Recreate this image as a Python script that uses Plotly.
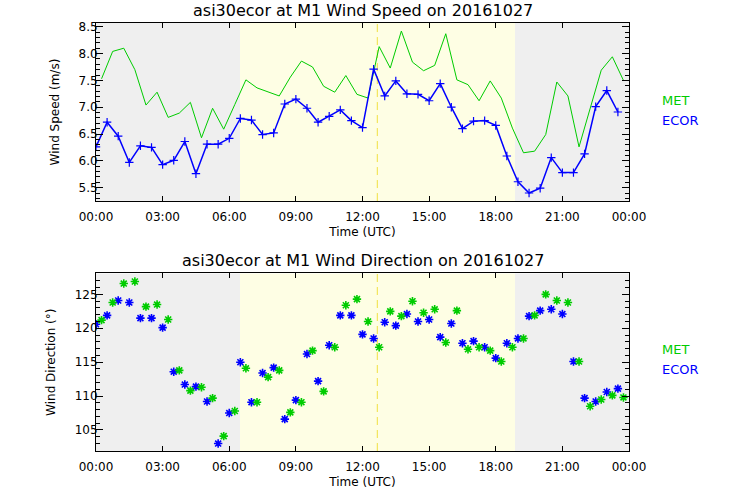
import pandas as pd
import plotly.graph_objects as go

# ---- data ----
ecor_times = pd.date_range("2016-10-27 00:00", periods=48, freq="30min")
met_times = pd.date_range("2016-10-27 00:15", periods=48, freq="30min")

ecor_speed = [6.26, 6.72, 6.46, 5.97, 6.28, 6.25, 5.93, 6.01, 6.36, 5.76, 6.31, 6.31,
              6.42, 6.79, 6.76, 6.49, 6.52, 7.06, 7.15, 6.98, 6.72, 6.83, 6.95, 6.75,
              6.62, 7.71, 7.21, 7.49, 7.25, 7.24, 7.12, 7.44, 7.00, 6.60, 6.74, 6.75,
              6.66, 6.09, 5.61, 5.40, 5.49, 6.06, 5.78, 5.78, 6.13, 7.01, 7.31, 6.91]
met_speed = [7.53, 8.04, 8.10, 7.70, 7.04, 7.28, 6.81, 6.89, 7.09, 6.43, 6.98, 6.59,
             7.05, 7.51, 7.36, 7.28, 7.21, 7.56, 7.86, 7.75, 7.39, 7.28, 7.59, 7.24,
             7.17, 8.13, 7.73, 8.42, 7.84, 7.68, 7.78, 8.37, 7.51, 7.42, 7.12, 7.49,
             7.17, 6.61, 6.15, 6.18, 6.49, 7.47, 7.21, 6.26, 6.98, 7.69, 7.94, 7.50]

ecor_dir = [120.6, 121.9, 124.1, 123.8, 121.5, 121.5, 120.1, 113.6, 111.7, 111.4, 109.2, 103.0,
            107.5, 115.0, 109.1, 113.4, 114.2, 106.6, 109.4, 116.2, 112.2, 117.5, 121.9, 121.9,
            119.1, 118.5, 120.9, 120.4, 122.1, 121.0, 121.3, 118.7, 120.7, 117.8, 118.1, 117.2,
            115.6, 117.8, 118.5, 121.8, 122.6, 122.8, 122.1, 115.1, 109.7, 109.2, 110.6, 111.1]
met_dir = [121.2, 123.8, 126.6, 126.9, 123.2, 123.5, 121.3, 113.8, 110.8, 111.3, 109.7, 104.1,
           107.8, 114.1, 109.1, 112.8, 113.8, 107.6, 109.1, 116.7, 110.7, 117.2, 123.4, 124.3,
           121.0, 117.2, 122.5, 121.8, 124.0, 122.3, 122.8, 117.9, 122.6, 116.9, 117.2, 116.7,
           115.1, 117.2, 118.5, 121.9, 125.0, 124.1, 123.8, 115.1, 108.5, 109.5, 110.1, 109.8]

day_start = "2016-10-27 00:00"
day_end = "2016-10-28 00:00"
sunrise = "2016-10-27 06:29"
sunset = "2016-10-27 18:52"
solar_noon = "2016-10-27 12:40"

titles = ["asi30ecor at M1 Wind Speed on 20161027",
          "asi30ecor at M1 Wind Direction on 20161027"]
y_titles = ["Wind Speed (m/s)", "Wind Direction (°)"]
legend_names = ["MET", "ECOR"]

GREEN = "#00cc00"
BLUE = "#0000ff"
GRAY = "#efefef"
YELLOW = "#fefee4"
FONT = "DejaVu Sans"

fig = go.Figure()

# top panel
fig.add_trace(go.Scatter(x=met_times, y=met_speed, mode="lines",
                         line=dict(color=GREEN, width=1), xaxis="x", yaxis="y",
                         showlegend=False))
fig.add_trace(go.Scatter(x=ecor_times, y=ecor_speed, mode="lines+markers",
                         line=dict(color=BLUE, width=1.5),
                         marker=dict(symbol="cross-thin-open", size=6, color=BLUE,
                                     line=dict(color=BLUE, width=1.2)),
                         xaxis="x", yaxis="y", showlegend=False))
# bottom panel
fig.add_trace(go.Scatter(x=ecor_times, y=ecor_dir, mode="markers",
                         marker=dict(symbol="asterisk-open", size=7, color=BLUE,
                                     line=dict(color=BLUE, width=1.6)),
                         xaxis="x2", yaxis="y2", showlegend=False))
fig.add_trace(go.Scatter(x=met_times, y=met_dir, mode="markers",
                         marker=dict(symbol="asterisk-open", size=7, color=GREEN,
                                     line=dict(color=GREEN, width=1.6)),
                         xaxis="x2", yaxis="y2", showlegend=False))

shapes = []
for xa, ya in [("x", "y domain"), ("x2", "y2 domain")]:
    shapes += [
        dict(type="rect", xref=xa, yref=ya, x0=day_start, x1=sunrise, y0=0, y1=1,
             fillcolor=GRAY, line_width=0, layer="below"),
        dict(type="rect", xref=xa, yref=ya, x0=sunrise, x1=sunset, y0=0, y1=1,
             fillcolor=YELLOW, line_width=0, layer="below"),
        dict(type="rect", xref=xa, yref=ya, x0=sunset, x1=day_end, y0=0, y1=1,
             fillcolor=GRAY, line_width=0, layer="below"),
        dict(type="line", xref=xa, yref=ya, x0=solar_noon, x1=solar_noon, y0=0, y1=1,
             line=dict(color="#f0e040", width=1, dash="8px,5px"), layer="below"),
    ]

annotations = []
annotations.append(dict(text=titles[0], x=0.5, y=1.0, xref="paper", yref="paper",
                        xanchor="center", yanchor="bottom", yshift=1, showarrow=False,
                        font=dict(family=FONT, size=16, color="#000")))
annotations.append(dict(text=titles[1], x=0.5, y=0.415, xref="paper", yref="paper",
                        xanchor="center", yanchor="bottom", yshift=1, showarrow=False,
                        font=dict(family=FONT, size=16, color="#000")))
# legends
for ybase in [0.82, 0.236]:
    annotations.append(dict(text=legend_names[0], x=1.0, y=ybase, xref="paper", yref="paper",
                            xanchor="left", yanchor="middle", xshift=31, showarrow=False,
                            font=dict(family=FONT, size=13, color=GREEN)))
    annotations.append(dict(text=legend_names[1], x=1.0, y=ybase, xref="paper", yref="paper",
                            xanchor="left", yanchor="middle", xshift=31, yshift=-20,
                            showarrow=False,
                            font=dict(family=FONT, size=13, color=BLUE)))

xcommon = dict(type="date", range=[day_start, day_end], tickformat="%H:%M",
               dtick=3 * 3600 * 1000, tick0=day_start, ticks="inside", ticklen=5,
               tickwidth=1, tickcolor="#000", showline=True, linecolor="#000",
               linewidth=1, mirror="ticks", showgrid=False, zeroline=False,
               automargin=False, ticklabelstandoff=5,
               tickfont=dict(family=FONT, size=12, color="#000"),
               title=dict(text="Time (UTC)", standoff=4,
                          font=dict(family=FONT, size=12, color="#000")))
ycommon = dict(ticks="inside", ticklen=7, tickwidth=1, tickcolor="#000",
               showline=True, linecolor="#000", linewidth=1, mirror="ticks",
               showgrid=False, zeroline=False, automargin=False,
               ticklabelstandoff=-5,
               tickfont=dict(family=FONT, size=12, color="#000"),
               minor=dict(ticks="inside", ticklen=4, tickcolor="#000", showgrid=False))

# margins are those of the reference; the page's default 8px body margin is
# removed below so the figure sits at the window's top-left corner
fig.update_layout(
    width=740, height=500,
    margin=dict(l=96, r=111, t=23, b=49, autoexpand=False),
    paper_bgcolor="white", plot_bgcolor="white",
    showlegend=False,
    xaxis=dict(xcommon, domain=[0, 1], anchor="y"),
    yaxis=dict(ycommon, domain=[0.584, 1.0], anchor="x", range=[5.25, 8.57],
               dtick=0.5, tickformat=".1f", minor=dict(ycommon["minor"], dtick=0.1),
               title=dict(text=y_titles[0], standoff=16,
                          font=dict(family=FONT, size=12, color="#000"))),
    xaxis2=dict(xcommon, domain=[0, 1], anchor="y2"),
    yaxis2=dict(ycommon, domain=[0.0, 0.415], anchor="x2", range=[101.9, 128.1],
                dtick=5, minor=dict(ycommon["minor"], dtick=1),
                title=dict(text=y_titles[1], standoff=16,
                           font=dict(family=FONT, size=12, color="#000"))),
    shapes=shapes, annotations=annotations,
)

fig.write_html("out.html", config={"displayModeBar": False},
               post_script="document.body.style.margin='0px';")
